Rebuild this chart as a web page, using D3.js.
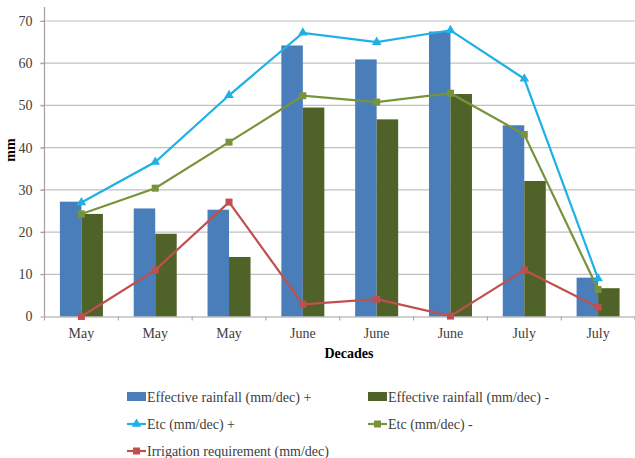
<!DOCTYPE html>
<html><head><meta charset="utf-8">
<script src="https://cdn.jsdelivr.net/npm/d3@7"></script>
<style>body{margin:0;background:#fff}svg{display:block}svg text{font-family:"Liberation Serif","DejaVu Serif",serif !important;fill:#404040}</style>
</head><body><svg id="c" width="635" height="458"></svg>
<script>
const categories = ["May","May","May","June","June","June","July","July"];
const rainPlus = [27.2,25.6,25.3,64.2,60.9,67.5,45.3,9.2];
const rainMinus = [24.3,19.6,14.1,49.5,46.7,52.7,32.1,6.7];
const etcPlus = [27.0,36.6,52.4,67.2,65.0,67.8,56.3,9.0];
const etcMinus = [24.3,30.4,41.3,52.3,50.8,52.9,43.1,6.4];
const irrigation = [0,11.0,27.1,2.9,4.1,0.1,11.0,2.2];
const yTicks = [0,10,20,30,40,50,60,70];

const svg = d3.select("#c");
const mLeft = 44.5, mRight = 635, mTop = 21, mBottom = 316.5;
const idx = d3.range(categories.length);
const x = d3.scaleBand().domain(idx).range([mLeft,mRight]);
const y = d3.scaleLinear().domain([0,70]).range([mBottom,mTop]);
const bw = 21.5;

// gridlines
svg.append("g").selectAll("line").data(yTicks.slice(1)).join("line")
  .attr("x1",mLeft-4).attr("x2",mRight).attr("y1",d=>y(d)).attr("y2",d=>y(d))
  .attr("stroke","#c0c0c0").attr("stroke-width",1.2);

// bars
const bars = svg.append("g");
bars.selectAll(".bp").data(rainPlus).join("rect").attr("class","bp")
  .attr("x",(d,i)=>x(i)+x.bandwidth()/2-bw).attr("width",bw)
  .attr("y",d=>y(d)).attr("height",d=>mBottom-y(d)).attr("fill","#4a7ebb");
bars.selectAll(".bm").data(rainMinus).join("rect").attr("class","bm")
  .attr("x",(d,i)=>x(i)+x.bandwidth()/2).attr("width",bw)
  .attr("y",d=>y(d)).attr("height",d=>mBottom-y(d)).attr("fill","#4f6228");

// y axis
const ya = svg.append("g").attr("transform",`translate(${mLeft},0)`)
  .call(d3.axisLeft(y).tickValues(yTicks).tickSize(4).tickPadding(8));
ya.select(".domain").attr("d",`M0,7V${mBottom}`).attr("stroke","#a0a0a0").attr("stroke-width",1.2);
ya.selectAll(".tick line").attr("stroke","#a0a0a0");
ya.selectAll(".tick text").attr("font-size",14);

// x axis
const xa = svg.append("g").attr("transform",`translate(0,${mBottom})`)
  .call(d3.axisBottom(x).tickFormat(i=>categories[i]).tickSize(0).tickPadding(12));
xa.select(".domain").attr("stroke","#a0a0a0").attr("stroke-width",1.2);
xa.selectAll(".tick text").attr("font-size",14);
svg.append("g").selectAll("line").data(d3.range(categories.length+1)).join("line")
  .attr("x1",i=>mLeft+i*x.step()).attr("x2",i=>mLeft+i*x.step())
  .attr("y1",mBottom).attr("y2",mBottom+4).attr("stroke","#a0a0a0");

const cx = i=>x(i)+x.bandwidth()/2;
const line = d3.line().x((d,i)=>cx(i)).y(d=>y(d));
const series = [
  {data:etcMinus,color:"#77933c",shape:"sq"},
  {data:etcPlus,color:"#1fb0e6",shape:"tri"},
  {data:irrigation,color:"#c0504d",shape:"sq"}
];
const tri = d3.symbol().type(d3.symbolTriangle).size(40);
series.forEach(s=>{
  svg.append("path").attr("d",line(s.data)).attr("fill","none").attr("stroke",s.color).attr("stroke-width",2.2);
  const g = svg.append("g");
  if(s.shape==="sq"){
    g.selectAll("rect").data(s.data).join("rect")
      .attr("x",(d,i)=>cx(i)-3.5).attr("y",d=>y(d)-3.5).attr("width",7).attr("height",7).attr("fill",s.color);
  } else {
    g.selectAll("path").data(s.data).join("path")
      .attr("d",tri).attr("transform",(d,i)=>`translate(${cx(i)},${y(d)})`).attr("fill",s.color);
  }
});

// axis titles
svg.append("text").attr("x",349).attr("y",358).attr("text-anchor","middle")
  .attr("font-size",14).attr("font-weight","bold").style("fill","#000").text("Decades");
svg.append("text").attr("transform","translate(15,150) rotate(-90)").attr("text-anchor","middle")
  .attr("font-size",14).attr("font-weight","bold").style("fill","#000").text("mm");

// legend
const legend = [
  {label:"Effective rainfall (mm/dec) +",type:"bar",color:"#4a7ebb",x:127,y:397},
  {label:"Effective rainfall (mm/dec) -",type:"bar",color:"#4f6228",x:368,y:397},
  {label:"Etc (mm/dec) +",type:"tri",color:"#1fb0e6",x:127,y:424},
  {label:"Etc (mm/dec) -",type:"sq",color:"#77933c",x:368,y:424},
  {label:"Irrigation requirement (mm/dec)",type:"sq",color:"#c0504d",x:127,y:451}
];
const lg = svg.append("g");
legend.forEach(l=>{
  if(l.type==="bar"){
    lg.append("rect").attr("x",l.x).attr("y",l.y-5).attr("width",19).attr("height",9).attr("fill",l.color);
  } else {
    lg.append("line").attr("x1",l.x).attr("x2",l.x+19).attr("y1",l.y).attr("y2",l.y).attr("stroke",l.color).attr("stroke-width",2.2);
    if(l.type==="sq") lg.append("rect").attr("x",l.x+6).attr("y",l.y-3.5).attr("width",7).attr("height",7).attr("fill",l.color);
    else lg.append("path").attr("d",tri).attr("transform",`translate(${l.x+9.5},${l.y})`).attr("fill",l.color);
  }
  lg.append("text").attr("x",l.x+20).attr("y",l.y+5).attr("font-size",14).text(l.label);
});
</script></body></html>
